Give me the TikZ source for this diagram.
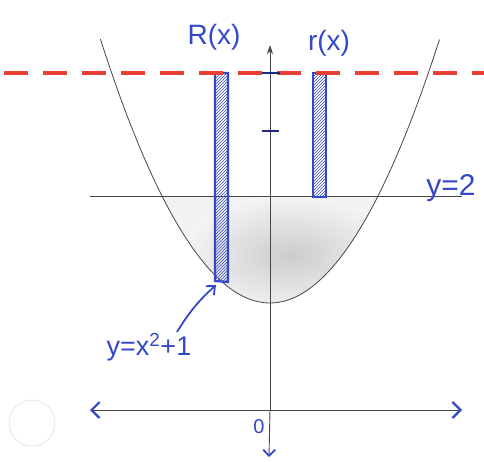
\documentclass[tikz,border=0pt]{standalone}
\usepackage{fontspec}
\setmainfont{Liberation Sans}
\usetikzlibrary{arrows.meta,patterns}
\definecolor{pen}{RGB}{52,72,200}
\definecolor{redpen}{RGB}{232,64,52}
\definecolor{axisgray}{RGB}{70,70,70}
\tikzset{
  axisline/.style={axisgray, line width=0.9pt},
  pentext/.style={text=pen, font=\fontsize{28}{30}\selectfont, inner sep=1pt},
  stripbox/.style={draw=pen, line width=2.2pt, pattern={north east lines}, pattern color=pen},
  tickmark/.style={pen!60!black, line width=1.8pt},
  penarrow/.style={pen, line width=1.8pt, -{Straight Barb[length=7pt,width=12pt]}},
}
\begin{document}
\begin{tikzpicture}[x=1pt,y=-1pt]
\useasboundingbox (0,0) rectangle (484,462);
% hole punch
\draw[gray!20, line width=0.8pt] (32,423) circle (23);
% shaded region between parabola and y=2
\begin{scope}
\clip plot[domain=-1:1,samples=60] ({270+108*\x},{410-107*(\x*\x+1)}) -- cycle;
\fill[gray!10] (150,190) rectangle (390,310);
\shade[inner color=gray!40, outer color=gray!8] (290,255) ellipse (110 and 60);
\end{scope}
% y = 2 line
\draw[axisgray, line width=0.8pt] (90,196) -- (462,196);
% parabola
\draw[axisgray, line width=0.8pt] plot[domain=-1.57:1.57,samples=80] ({270+108*\x},{410-107*(\x*\x+1)});
% strips
\draw[stripbox] (215,73) -- (228,73) -- (228,282) -- (215,281) -- cycle;
\draw[stripbox] (313,73) rectangle (326,197);
% red dashed line
\draw[redpen, line width=3.5pt, dash pattern=on 24pt off 15pt] (4,73) -- (484,73);
% axes
\draw[axisline, -{Straight Barb[color=pen,length=8pt,width=16pt,line width=2.2pt]}] (270,410) -- (462,410);
\draw[axisline, -{Straight Barb[color=pen,length=8pt,width=16pt,line width=2.2pt]}] (270,410) -- (90,410);
\draw[axisline, -{Stealth[length=9pt,width=6pt]}] (270,410) -- (270,45);
\draw[axisline, -{Straight Barb[color=pen,length=6pt,width=12pt,line width=1.8pt]}] (270,410) -- (269,457);
% ticks
\draw[tickmark] (262,73) -- (280,73);
\draw[tickmark] (262,131) -- (279,131);
% labels
\node[pentext] (Rlab) at (214,37) {R(x)};
\node[pentext] (rlab) at (329,43) {r(x)};
\node[pentext, font=\fontsize{30}{32}\selectfont] (ytwo) at (451,188) {y=2};
\node[pentext, font=\fontsize{27}{29}\selectfont] (parlab) at (149,347) {y=x\textsuperscript{2}+1};
\node[pentext, font=\fontsize{20}{22}\selectfont] (zero) at (259,427) {0};
\coordinate (arrstart) at (177,332);
\coordinate (onpar) at (216,285);
\draw[penarrow] (arrstart) to[bend left=8] (onpar);
\end{tikzpicture}
\end{document}
